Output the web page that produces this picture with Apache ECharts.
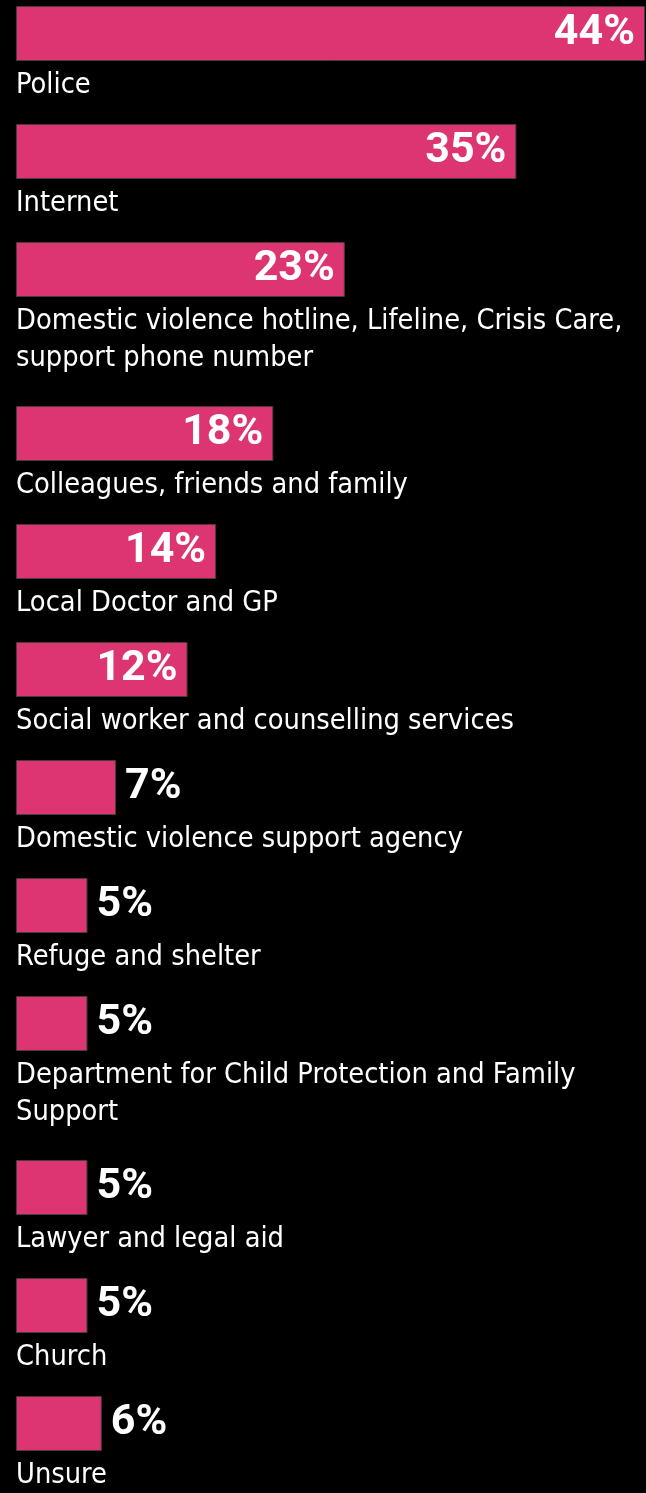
<!DOCTYPE html>
<html>
<head>
<meta charset="utf-8">
<script src="https://cdn.jsdelivr.net/npm/echarts@6/dist/echarts.min.js"></script>
<style>
  html, body { margin: 0; padding: 0; background: #000; }
  #chart { width: 646px; height: 1493px; }
</style>
</head>
<body>
<div id="chart"></div>
<script>
// Where people would turn for help (share of respondents, %)
const categories = [
  'Police',
  'Internet',
  'Domestic violence hotline, Lifeline, Crisis Care,\nsupport phone number',
  'Colleagues, friends and family',
  'Local Doctor and GP',
  'Social worker and counselling services',
  'Domestic violence support agency',
  'Refuge and shelter',
  'Department for Child Protection and Family\nSupport',
  'Lawyer and legal aid',
  'Church',
  'Unsure'
];
const values = [44, 35, 23, 18, 14, 12, 7, 5, 5, 5, 5, 6];
const valueMax = 44;

// Layout: one small grid per bar, stacked vertically; rows with
// two-line names get extra room.
const BAR_H = 55;
const ROW_PITCH = 118;
const EXTRA_LINE = 46;
const LEFT = 16;
const PLOT_W = 629;
const BAR_COLOR = '#DD3571';

const tops = [];
let cursor = 6;
categories.forEach(function (name) {
  tops.push(cursor);
  cursor += ROW_PITCH + EXTRA_LINE * (name.split('\n').length - 1);
});

const grids = [], xAxes = [], yAxes = [], series = [], titles = [];
categories.forEach(function (name, i) {
  grids.push({ left: LEFT, top: tops[i], width: PLOT_W, height: BAR_H, containLabel: false });
  xAxes.push({ type: 'value', gridIndex: i, min: 0, max: valueMax, show: false });
  yAxes.push({ type: 'category', gridIndex: i, data: [name], show: false });
  const inside = values[i] >= 10;
  series.push({
    type: 'bar',
    xAxisIndex: i,
    yAxisIndex: i,
    data: [values[i]],
    barWidth: BAR_H,
    itemStyle: { color: BAR_COLOR, borderColor: '#4a3a42', borderWidth: 1 },
    label: {
      show: true,
      position: inside ? 'insideRight' : 'right',
      distance: inside ? 10 : 9,
      formatter: '{c}%',
      color: '#ffffff',
      fontFamily: 'Roboto',
      fontWeight: 'bold',
      fontSize: 43
    }
  });
  titles.push({
    text: name,
    left: LEFT,
    top: tops[i] + BAR_H + 6,
    padding: 0,
    textStyle: {
      color: '#ffffff',
      fontFamily: '"DejaVu Sans Condensed", "DejaVu Sans"',
      fontWeight: 'normal',
      fontSize: 28.7,
      lineHeight: 37
    }
  });
});

const chart = echarts.init(document.getElementById('chart'), null, { renderer: 'canvas' });
chart.setOption({
  backgroundColor: '#000000',
  animation: false,
  title: titles,
  grid: grids,
  xAxis: xAxes,
  yAxis: yAxes,
  series: series
});
</script>
</body>
</html>
